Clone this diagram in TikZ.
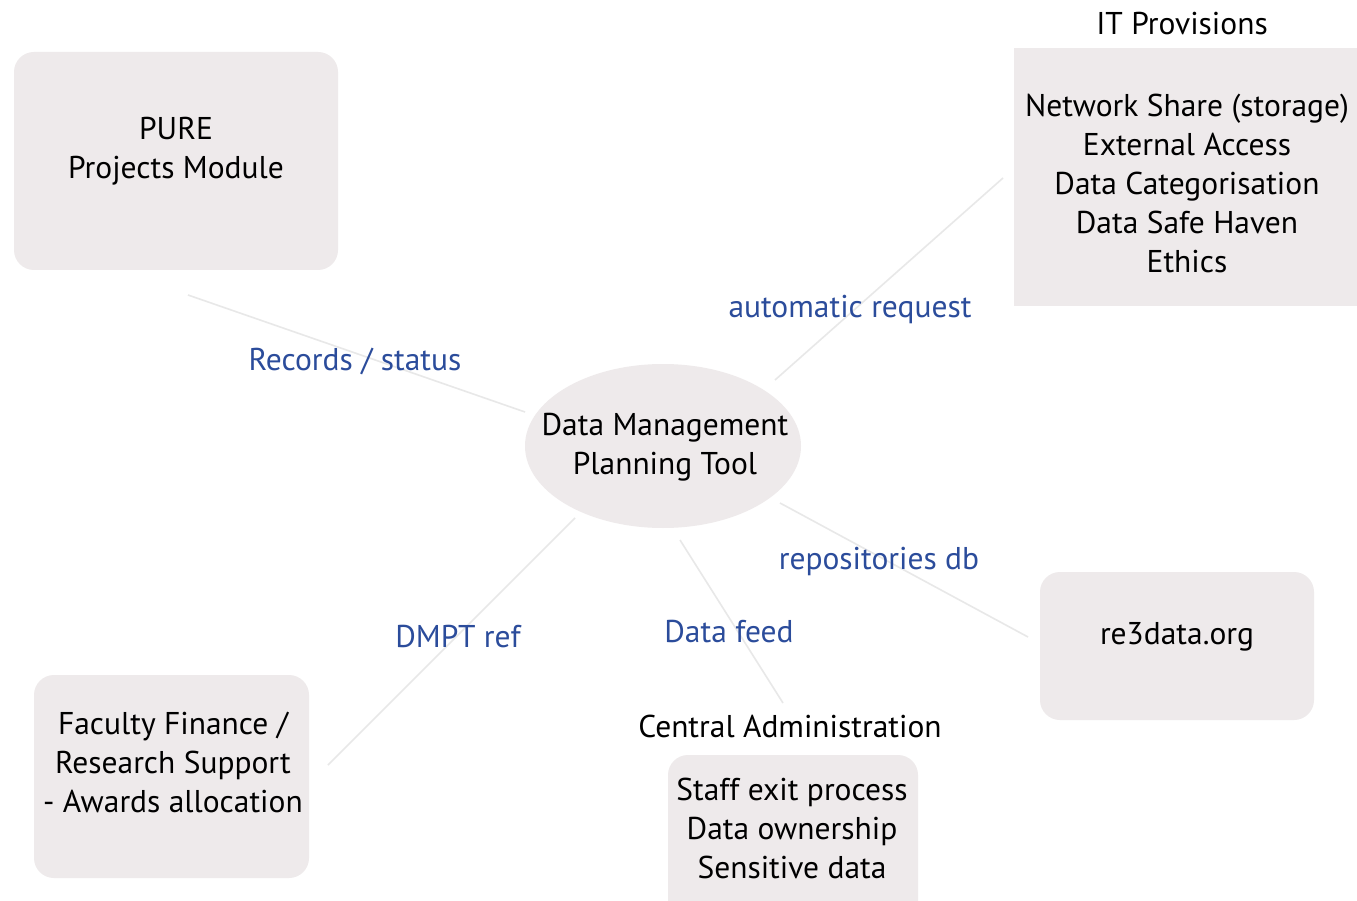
\documentclass[tikz,border=0pt]{standalone}
\usepackage{fontspec}
\setmainfont{PT Sans}
\usetikzlibrary{shapes.geometric}
\definecolor{boxfill}{HTML}{EEEAEB}
\definecolor{lblue}{HTML}{2B4C9B}
\definecolor{linegray}{HTML}{E8E8E8}
\begin{document}
\begin{tikzpicture}[x=1pt,y=-1pt,
  txt/.style={font=\fontsize{31.5}{39}\selectfont, align=center, text=black, inner sep=0pt},
  boxr/.style={fill=boxfill, rounded corners=20pt, draw=none, inner sep=0pt},
  boxs/.style={fill=boxfill, draw=none, inner sep=0pt},
  lbl/.style={font=\fontsize{31.5}{39}\selectfont, text=lblue, inner sep=0pt},
  conn/.style={draw=linegray, line width=1.6pt}]
\useasboundingbox (0,0) rectangle (1357,901);
\fill[white] (0,0) rectangle (1357,901);
% boxes
\node[boxr, minimum width=324pt, minimum height=218pt] (pure) at (176,161) {};
\node[txt] (puret) at (176,151) {PURE\\Projects Module};
\node[boxs, minimum width=343pt, minimum height=258pt] (it) at (1185.5,177) {};
\node[txt] (ittitle) at (1182,24) {IT Provisions};
\node[txt] (itt) at (1187,183) {Network Share (storage)\\External Access\\Data Categorisation\\Data Safe Haven\\Ethics};
\node[ellipse, fill=boxfill, minimum width=276pt, minimum height=164pt, inner sep=0pt] (dmpt) at (663,446) {};
\node[txt] (dmptt) at (665,447) {Data Management\\Planning Tool};
\node[boxr, minimum width=274pt, minimum height=148pt] (re3) at (1177,646) {};
\node[txt] (re3t) at (1177,637) {re3data.org};
\node[boxr, minimum width=275pt, minimum height=203pt] (fac) at (171.5,776.5) {};
\node[txt] (fact) at (173,762) {Faculty Finance /\\Research Support\\- Awards allocation};
\node[boxr, minimum width=250pt, minimum height=166pt] (ca) at (793,838) {};
\node[txt] (catitle) at (790,726) {Central Administration};
\node[txt] (cat) at (792,828) {Staff exit process\\Data ownership\\Sensitive data};
% connector end points
\coordinate (p1) at (188,295); \coordinate (p2) at (525,412);
\coordinate (i1) at (775,380); \coordinate (i2) at (1003,178);
\coordinate (f1) at (575,518); \coordinate (f2) at (328,765);
\coordinate (c1) at (680,540); \coordinate (c2) at (783,703);
\coordinate (r1) at (780,503); \coordinate (r2) at (1028,637);
\draw[conn] (p1) -- (p2);
\draw[conn] (i1) -- (i2);
\draw[conn] (f1) -- (f2);
\draw[conn] (c1) -- (c2);
\draw[conn] (r1) -- (r2);
% labels
\node[lbl] (l1) at (355,361) {Records / status};
\node[lbl] (l2) at (850,309) {automatic request};
\node[lbl] (l3) at (879,561) {repositories db};
\node[lbl] (l4) at (458,637) {DMPT ref};
\node[lbl] (l5) at (729,632) {Data feed};
\end{tikzpicture}
\end{document}
